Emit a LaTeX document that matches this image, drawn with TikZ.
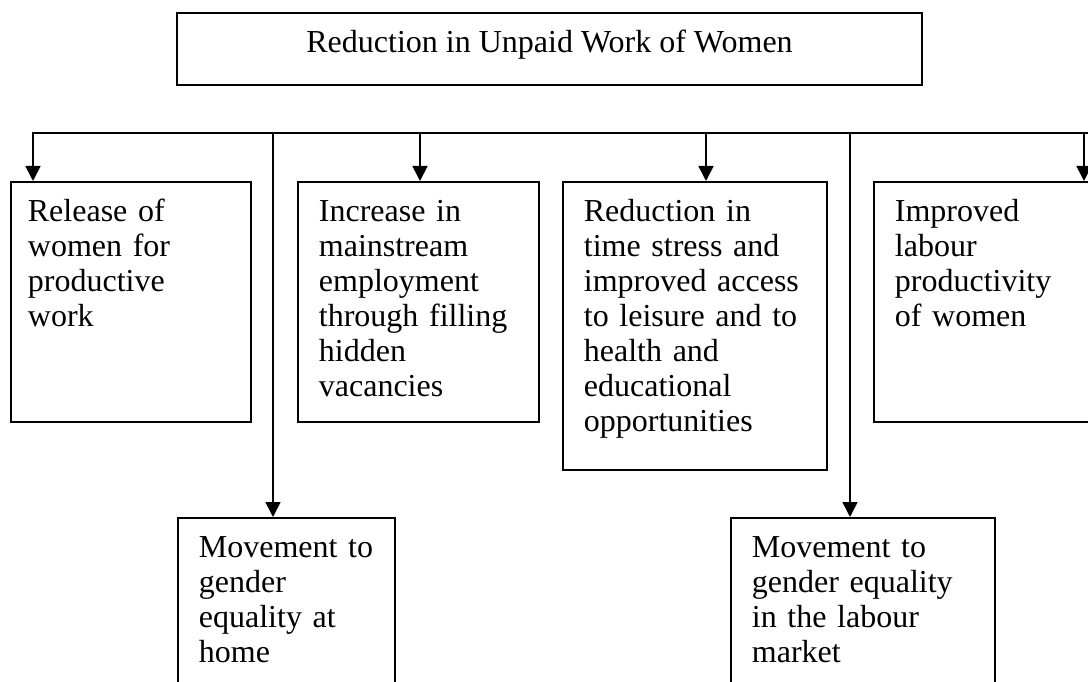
\documentclass[tikz,border=0pt]{standalone}
\usepackage{fontspec}
\setmainfont{Liberation Serif}
\usetikzlibrary{arrows.meta}

\begin{document}
\begin{tikzpicture}[x=1pt,y=-1pt,
        box/.style={draw,line width=1.8pt,anchor=north west,align=left,
            font=\fontsize{32}{35}\selectfont,inner xsep=21pt,inner ysep=16pt,text height=24pt},
        feed/.style={line width=1.8pt,arrows=-{Triangle[length=15pt,width=15pt]}}]

            %\draw [help lines,step=50] (0,0) grid (1088,682);
            \useasboundingbox (0,0) rectangle (1088,682);
            \clip (0,0) rectangle (1088,682);

            \path   (549.5,49) node (top) [draw,line width=1.8pt,minimum width=745pt,minimum height=72pt,
                        font=\fontsize{32}{35}\selectfont,text height=22pt,text depth=14pt] {Reduction in Unpaid Work of Women}
                    (10,181) node (rel) [box,inner xsep=17pt,text width=206pt,text depth=184pt] {Release of\\women for\\productive\\work}
                    (297,181) node (inc) [box,text width=199pt,text depth=184pt] {Increase in\\mainstream\\employment\\through filling\\hidden\\vacancies}
                    (562,181) node (red) [box,text width=222pt,text depth=232pt] {Reduction in\\time stress and\\improved access\\to leisure and to\\health and\\educational\\opportunities}
                    (873,181) node (imp) [box,text width=218pt,text depth=184pt] {Improved\\labour\\productivity\\of women}
                    (177,517) node (home) [box,text width=175pt,text depth=144pt] {Movement to\\gender\\equality at\\home}
                    (730,517) node (mkt) [box,text width=222pt,text depth=144pt] {Movement to\\gender equality\\in the labour\\market};

            % the bus and its drops
            \coordinate (b1) at (33,133);
            \coordinate (b2) at (273,133);
            \coordinate (b3) at (420,133);
            \coordinate (b4) at (706,133);
            \coordinate (b5) at (850,133);
            \coordinate (b6) at (1084,133);
            \coordinate (bend) at (1100,133);

            \draw[feed] (bend) -- (b1) -- (b1 |- rel.north);
            \draw[feed] (b2) -- (b2 |- home.north);
            \draw[feed] (b3) -- (b3 |- inc.north);
            \draw[feed] (b4) -- (b4 |- red.north);
            \draw[feed] (b5) -- (b5 |- mkt.north);
            \draw[feed] (b6) -- (b6 |- imp.north);

        \end{tikzpicture}
\end{document}
